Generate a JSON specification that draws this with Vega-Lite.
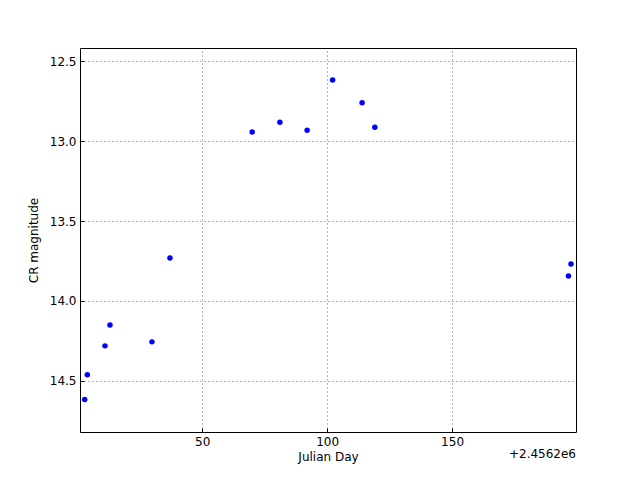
{
  "$schema": "https://vega.github.io/schema/vega-lite/v6.json",
  "width": 496,
  "height": 384,
  "autosize": {"type": "none"},
  "padding": {"left": 80, "top": 48, "right": 64, "bottom": 48},
  "background": "white",
  "config": {
    "font": "DejaVu Sans",
    "view": {"stroke": "black", "strokeWidth": 1},
    "axis": {
      "labelFont": "DejaVu Sans",
      "labelFontSize": 12,
      "labelColor": "black",
      "titleFont": "DejaVu Sans",
      "titleFontSize": 12,
      "titleFontWeight": "normal",
      "titleColor": "black",
      "domain": false,
      "grid": true,
      "gridColor": "black",
      "gridOpacity": 0.6,
      "gridDash": [1, 3],
      "gridWidth": 1,
      "ticks": true,
      "tickSize": -4,
      "tickColor": "black",
      "labelPadding": 8
    }
  },
  "title": {
    "text": "+2.4562e6",
    "orient": "bottom",
    "anchor": "end",
    "frame": "group",
    "font": "DejaVu Sans",
    "fontSize": 12,
    "fontWeight": "normal",
    "color": "black",
    "offset": -13
  },
  "data": {
    "values": [
      {"jd": 2.98, "mag": 14.617},
      {"jd": 4.02, "mag": 14.462},
      {"jd": 11.1, "mag": 14.281},
      {"jd": 13.1, "mag": 14.150},
      {"jd": 29.9, "mag": 14.256},
      {"jd": 37.1, "mag": 13.731},
      {"jd": 70.0, "mag": 12.942},
      {"jd": 81.1, "mag": 12.882},
      {"jd": 92.0, "mag": 12.932},
      {"jd": 102.2, "mag": 12.617},
      {"jd": 114.0, "mag": 12.759},
      {"jd": 119.1, "mag": 12.913},
      {"jd": 196.6, "mag": 13.844},
      {"jd": 197.6, "mag": 13.769}
    ]
  },
  "mark": {"type": "circle", "color": "#0000ff", "opacity": 1, "size": 30},
  "encoding": {
    "x": {
      "field": "jd",
      "type": "quantitative",
      "scale": {"domain": [1.1, 199.6], "nice": false, "zero": false},
      "axis": {"values": [50, 100, 150], "title": "Julian Day", "titlePadding": 4, "format": "d"}
    },
    "y": {
      "field": "mag",
      "type": "quantitative",
      "scale": {"domain": [12.417, 14.82], "reverse": true, "nice": false, "zero": false},
      "axis": {"values": [12.5, 13.0, 13.5, 14.0, 14.5], "format": ".1f", "title": "CR magnitude", "titlePadding": 9}
    }
  }
}
